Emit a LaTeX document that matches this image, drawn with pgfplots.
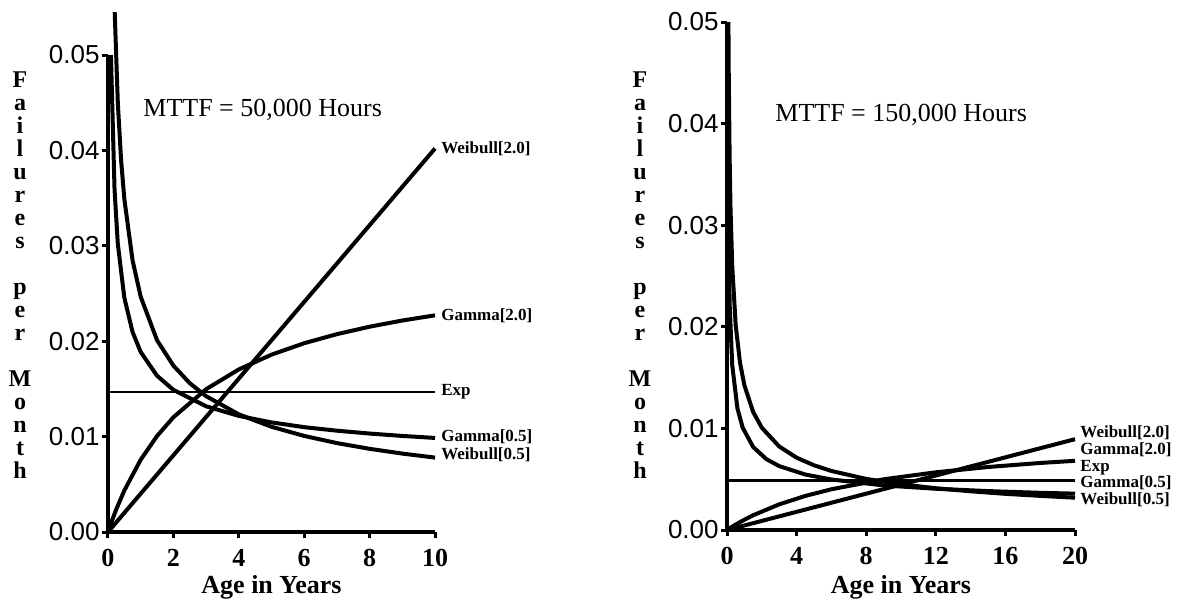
\documentclass[border=0pt]{standalone}
\usepackage{fontspec}
\setmainfont{Liberation Serif}
\newfontfamily\ticksans{Liberation Sans}
\usepackage{pgfplots}
\pgfplotsset{compat=1.18}

\tikzset{lbl/.style={anchor=west, font=\bfseries\fontsize{8.5}{9}\selectfont, inner sep=0pt}}

\pgfplotsset{
  hazard/.style={
    scale only axis,
    axis lines*=left,
    axis line style={line width=2pt},
    tick align=outside,
    major tick length=3pt,
    tick style={line width=1.5pt, black},
    clip=false,
    ymin=0, ymax=0.05,
    scaled y ticks=false,
    ytick={0,0.01,0.02,0.03,0.04,0.05},
    yticklabels={0.00,0.01,0.02,0.03,0.04,0.05},
    yticklabel style={font=\ticksans\fontsize{13}{15}\selectfont, inner sep=1pt},
    xticklabel style={font=\bfseries\fontsize{13}{15}\selectfont, yshift=-2pt},
    /pgf/number format/assume math mode=true,
    xlabel style={font=\bfseries\fontsize{13}{15}\selectfont, at={(axis description cs:0.5,0)}, anchor=center},
  },
  curve/.style={black, mark=none, line width=2pt},
  expline/.style={black, mark=none, line width=1.3pt},
}

\newcommand{\stacklabel}[1]{%
  \foreach \ch [count=\i] in {F,a,i,l,u,r,e,s,{},p,e,r,{},M,o,n,t,h}
    \node[font=\bfseries\fontsize{12}{12}\selectfont, anchor=base] at (#1, 300pt-80*0.5pt-\i*11.5pt+11.5pt-3.5pt) {\ch};%
}

\begin{document}
\begin{tikzpicture}
\path (0,0) rectangle (592pt,300pt);

% MTTF = 50,000 hours
\begin{axis}[hazard,
  width=163.5pt, height=238.5pt,
  at={(54pt,34pt)}, anchor=south west,
  xmin=0, xmax=10, xtick={0,2,4,6,8,10},
  xlabel={Age in Years}, xlabel style={yshift=-27.5pt}]
\addplot[expline] coordinates {(0,0.01468) (10,0.01468)};
\addplot[curve] coordinates {(0,0) (10,0.0402)};
\addplot[curve] coordinates {(0,0) (0.1,0.000988) (0.25,0.002352) (0.5,0.004353) (1,0.007577) (1.5,0.01006) (2,0.01203) (3,0.01497) (4,0.01704) (5,0.01859) (6,0.01979) (7,0.02074) (8,0.02152) (9,0.02217) (10,0.02271)};
\addplot[curve] coordinates {(0.09,0.0500) (0.1,0.0487) (0.2,0.0359) (0.3,0.0302) (0.5,0.02455) (0.75,0.02098) (1,0.01887) (1.5,0.01638) (2,0.0149) (3,0.01318) (4,0.01217) (5,0.01149) (6,0.01099) (7,0.01062) (8,0.01032) (9,0.01007) (10,0.00986)};
\addplot[curve] coordinates {(0.205,0.0545) (0.3,0.0450) (0.4,0.0390) (0.5,0.0349) (0.75,0.0285) (1,0.02466) (1.5,0.0201) (2,0.01744) (2.5,0.0156) (3,0.01424) (4,0.01233) (5,0.01103) (6,0.01007) (7,0.00932) (8,0.00872) (9,0.00822) (10,0.0078)};
\node[anchor=west, font=\fontsize{13}{15}\selectfont, inner sep=0pt] at (axis cs:1.07,0.0442) {MTTF = 50,000 Hours};
\node[lbl] at (axis cs:10.18,0.0402) {Weibull[2.0]};
\node[lbl] at (axis cs:10.18,0.0227) {Gamma[2.0]};
\node[lbl] at (axis cs:10.18,0.01468) {Exp};
\node[lbl] at (axis cs:10.18,0.00996) {Gamma[0.5]};
\node[lbl] at (axis cs:10.18,0.00807) {Weibull[0.5]};
\end{axis}
\stacklabel{10pt}

% MTTF = 150,000 hours
\begin{axis}[hazard,
  width=174pt, height=254pt,
  at={(363.5pt,35pt)}, anchor=south west,
  xmin=0, xmax=20, xtick={0,4,8,12,16,20},
  xlabel={Age in Years}, xlabel style={yshift=-28.5pt}]
\addplot[expline] coordinates {(0,0.00487) (20,0.00487)};
\addplot[curve] coordinates {(0,0) (20,0.00894)};
\addplot[curve] coordinates {(0,0) (0.3,0.000329) (0.75,0.000784) (1.5,0.001451) (3,0.002526) (4.5,0.003353) (6,0.00401) (9,0.00499) (12,0.00568) (15,0.0062) (18,0.0066) (20,0.00681)};
\addplot[curve] coordinates {(0.03,0.0479) (0.06,0.0344) (0.15,0.0223) (0.3,0.01624) (0.6,0.01196) (0.9,0.01008) (1.5,0.00818) (2.25,0.00699) (3,0.00629) (4.5,0.00546) (6,0.00497) (9,0.00439) (12,0.00406) (15,0.00383) (18,0.00366) (20,0.00358)};
\addplot[curve] coordinates {(0.081,0.0500) (0.1,0.0450) (0.15,0.0368) (0.2,0.0318) (0.3,0.0260) (0.5,0.02014) (0.75,0.01644) (1,0.01424) (1.5,0.01163) (2,0.01007) (3,0.00822) (4,0.00712) (5,0.00637) (6,0.00581) (8,0.00503) (10,0.0045) (12,0.00411) (14,0.00381) (16,0.00356) (18,0.00336) (20,0.00318)};
\node[anchor=west, font=\fontsize{13}{15}\selectfont, inner sep=0pt] at (axis cs:2.76,0.0409) {MTTF = 150,000 Hours};
\node[lbl] at (axis cs:20.29,0.00955) {Weibull[2.0]};
\node[lbl] at (axis cs:20.29,0.00787) {Gamma[2.0]};
\node[lbl] at (axis cs:20.29,0.0061) {Exp};
\node[lbl] at (axis cs:20.29,0.00463) {Gamma[0.5]};
\node[lbl] at (axis cs:20.29,0.00295) {Weibull[0.5]};
\end{axis}
\stacklabel{320pt}
\end{tikzpicture}
\end{document}
